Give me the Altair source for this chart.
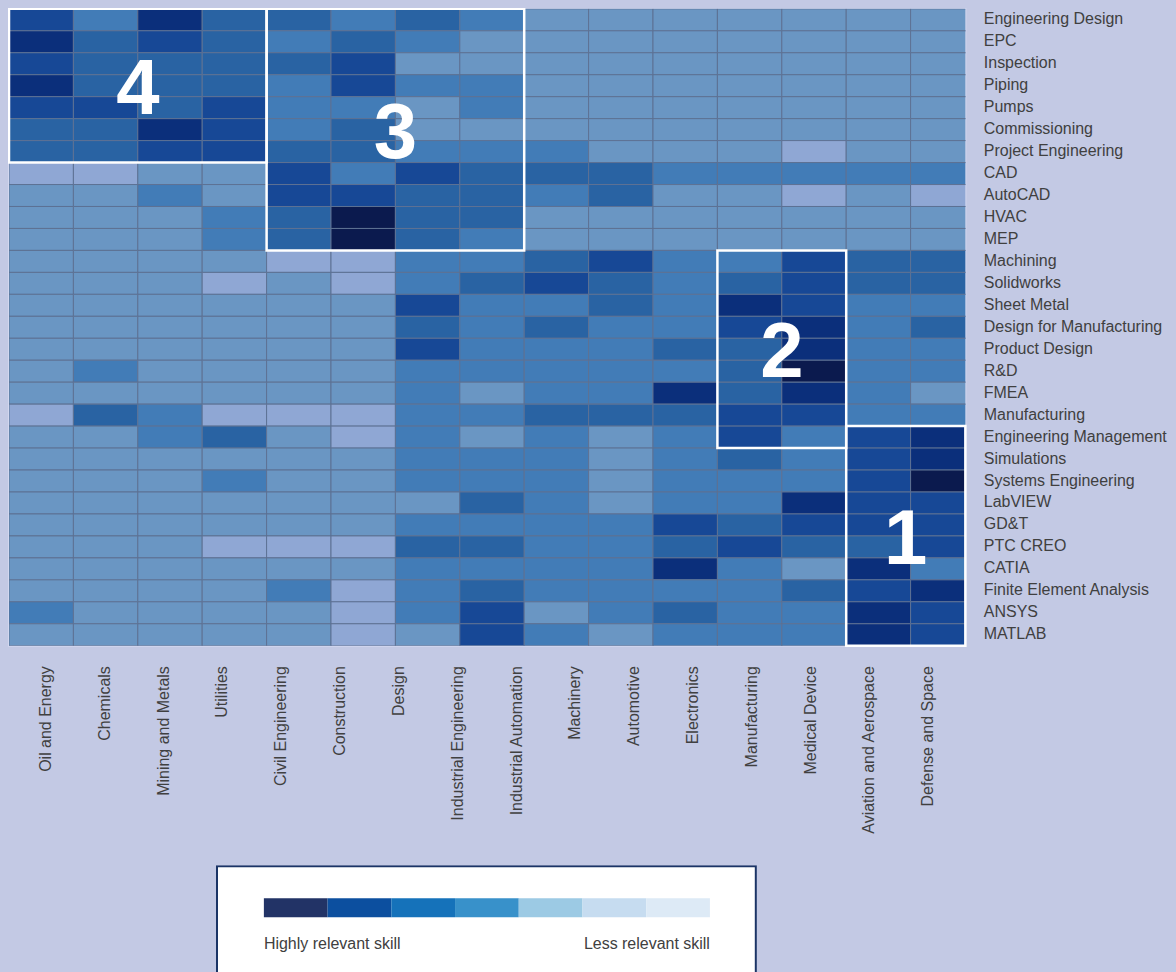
import json
import altair as alt
import pandas as pd

FONT = "Liberation Sans"
TEXT_COLOR = "#404040"
PAGE_BG = "#c3c9e4"

industries = [
    "Oil and Energy", "Chemicals", "Mining and Metals", "Utilities",
    "Civil Engineering", "Construction", "Design", "Industrial Engineering",
    "Industrial Automation", "Machinery", "Automotive", "Electronics",
    "Manufacturing", "Medical Device", "Aviation and Aerospace", "Defense and Space",
]

skills = [
    "Engineering Design", "EPC", "Inspection", "Piping", "Pumps", "Commissioning",
    "Project Engineering", "CAD", "AutoCAD", "HVAC", "MEP", "Machining", "Solidworks",
    "Sheet Metal", "Design for Manufacturing", "Product Design", "R&D", "FMEA",
    "Manufacturing", "Engineering Management", "Simulations", "Systems Engineering",
    "LabVIEW", "GD&T", "PTC CREO", "CATIA", "Finite Element Analysis", "ANSYS", "MATLAB",
]

# relevance level per skill (row) and heatmap column: 1 = highly relevant ... 7 = less relevant
relevance = [
    [3, 5, 2, 4, 4, 5, 4, 5, 6, 6, 6, 6, 6, 6, 6],
    [2, 4, 3, 4, 5, 4, 5, 6, 6, 6, 6, 6, 6, 6, 6],
    [3, 4, 4, 4, 4, 3, 6, 6, 6, 6, 6, 6, 6, 6, 6],
    [2, 4, 4, 4, 5, 3, 5, 5, 6, 6, 6, 6, 6, 6, 6],
    [3, 3, 4, 3, 5, 5, 6, 5, 6, 6, 6, 6, 6, 6, 6],
    [4, 4, 2, 3, 5, 4, 6, 6, 6, 6, 6, 6, 6, 6, 6],
    [4, 4, 3, 3, 4, 4, 5, 5, 5, 6, 6, 6, 7, 6, 6],
    [7, 7, 6, 6, 3, 5, 3, 4, 4, 4, 5, 5, 5, 5, 5],
    [6, 6, 5, 6, 3, 3, 4, 4, 5, 4, 6, 6, 7, 6, 7],
    [6, 6, 6, 5, 4, 1, 4, 4, 6, 6, 6, 6, 6, 6, 6],
    [6, 6, 6, 5, 4, 1, 4, 5, 6, 6, 6, 6, 6, 6, 6],
    [6, 6, 6, 6, 7, 7, 5, 5, 4, 3, 5, 5, 3, 4, 4],
    [6, 6, 6, 7, 6, 7, 5, 4, 3, 4, 5, 4, 3, 4, 4],
    [6, 6, 6, 6, 6, 6, 3, 5, 5, 4, 5, 2, 3, 5, 5],
    [6, 6, 6, 6, 6, 6, 4, 5, 4, 5, 5, 3, 2, 5, 4],
    [6, 6, 6, 6, 6, 6, 3, 5, 5, 5, 4, 4, 2, 5, 5],
    [6, 5, 6, 6, 6, 6, 5, 5, 5, 5, 5, 4, 1, 5, 5],
    [6, 6, 6, 6, 6, 6, 5, 6, 5, 5, 2, 4, 2, 5, 6],
    [7, 4, 5, 7, 7, 7, 5, 5, 4, 4, 4, 3, 3, 5, 5],
    [6, 6, 5, 4, 6, 7, 5, 6, 5, 6, 5, 3, 5, 3, 2],
    [6, 6, 6, 6, 6, 6, 5, 5, 5, 6, 5, 4, 5, 3, 2],
    [6, 6, 6, 5, 6, 6, 5, 5, 5, 6, 5, 5, 5, 3, 1],
    [6, 6, 6, 6, 6, 6, 6, 4, 5, 6, 5, 5, 2, 3, 3],
    [6, 6, 6, 6, 6, 6, 5, 5, 5, 5, 3, 4, 3, 3, 3],
    [6, 6, 6, 7, 7, 7, 4, 4, 5, 5, 4, 3, 4, 4, 3],
    [6, 6, 6, 6, 6, 6, 5, 5, 5, 5, 2, 5, 6, 2, 5],
    [6, 6, 6, 6, 5, 7, 5, 4, 5, 5, 5, 5, 4, 3, 2],
    [5, 6, 6, 6, 6, 7, 5, 3, 6, 5, 4, 5, 5, 2, 3],
    [6, 6, 6, 6, 6, 7, 6, 3, 5, 6, 5, 5, 5, 2, 3],
]

heat_colors = ["#0b1a4e", "#0b2f7b", "#174896", "#2963a3", "#427cb7", "#6a96c3", "#8fa7d4"]
legend_colors = ["#223366", "#0c4f9f", "#1572ba", "#3891ca", "#9ccae4", "#c6dcf0", "#ddeaf6"]
legend_texts = ["Highly relevant skill", "Less relevant skill"]

cluster_labels = ["4", "3", "2", "1"]
cluster_first_col = [0, 4, 11, 13]
cluster_last_col = [3, 7, 12, 14]
cluster_first_row = ["Engineering Design", "Engineering Design", "Machining", "Engineering Management"]
cluster_last_row = ["Project Engineering", "MEP", "Engineering Management", "MATLAB"]

n_rows = len(skills)
visible_cols = 14.85  # the last heatmap column is cut by the plot edge

cells = pd.DataFrame(
    [{"col": c, "row": r, "level": v} for r, vals in enumerate(relevance) for c, v in enumerate(vals)]
)
clusters = pd.DataFrame({
    "label": cluster_labels,
    "c0": cluster_first_col,
    "c1": [c + 1 for c in cluster_last_col],
    "r0": [skills.index(s) for s in cluster_first_row],
    "r1": [skills.index(s) + 1 for s in cluster_last_row],
})

xs = alt.Scale(domain=[0, visible_cols], nice=False, zero=False)
ys = alt.Scale(domain=[0, n_rows], reverse=True, nice=False, zero=False)

y_axis = alt.Axis(
    orient="right", values=[i + 0.5 for i in range(n_rows)],
    labelExpr=json.dumps(skills) + "[floor(datum.value)]",
    title=None, ticks=False, domain=False, grid=False, labelPadding=18,
    labelFont=FONT, labelFontSize=16, labelColor=TEXT_COLOR, labelAlign="left",
    labelBaseline="middle", labelOverlap=False, labelFlush=False, labelLimit=400,
    labelOffset=-1,
)

heat = alt.Chart(cells).transform_calculate(
    col_end="datum.col + 1", row_end="datum.row + 1"
).mark_rect(clip=True, stroke="#5d7194", strokeWidth=1).encode(
    x=alt.X("col:Q", scale=xs, axis=None),
    x2="col_end:Q",
    y=alt.Y("row:Q", scale=ys, axis=y_axis),
    y2="row_end:Q",
    color=alt.Color("level:O", scale=alt.Scale(domain=list(range(1, 8)), range=heat_colors), legend=None),
)

frames = alt.Chart(clusters).transform_calculate(
    c1v=f"min(datum.c1, {visible_cols})"
).mark_rect(fill="white", fillOpacity=0, stroke="white", strokeWidth=2.5).encode(
    x=alt.X("c0:Q", scale=xs, axis=None), x2="c1v:Q",
    y=alt.Y("r0:Q", scale=ys, axis=y_axis), y2="r1:Q",
)

numbers = alt.Chart(clusters).transform_calculate(
    cx=f"(datum.c0 + min(datum.c1, {visible_cols})) / 2", cy="(datum.r0 + datum.r1) / 2"
).mark_text(font=FONT, fontWeight="bold", fontSize=78, color="white", align="center",
            baseline="middle", dy=5).encode(
    x=alt.X("cx:Q", scale=xs, axis=None),
    y=alt.Y("cy:Q", scale=ys, axis=y_axis),
    text="label:N",
)

col_labels = alt.Chart(pd.DataFrame({"industry": industries})).mark_point(opacity=0).encode(
    x=alt.X(
        "industry:N", sort=industries,
        scale=alt.Scale(type="band", paddingInner=0, paddingOuter=0.13),
        axis=alt.Axis(
            orient="bottom", title=None, labelAngle=-90, ticks=False, domain=False,
            labelPadding=20, labelFont=FONT, labelFontSize=16, labelColor=TEXT_COLOR,
            labelOverlap=False, labelLimit=400,
        ),
    )
)

main = alt.layer(alt.layer(heat, frames, numbers), col_labels).resolve_scale(x="independent").properties(
    width=958, height=638, view=alt.ViewBackground(stroke="#d3d8ef", strokeWidth=2)
)

# legend panel
lxs = alt.Scale(domain=[-4.0, 7.75], nice=False, zero=False)
lys = alt.Scale(domain=[0, 112], reverse=True, nice=False, zero=False)

legend_box = alt.Chart(pd.DataFrame({"x0": [-0.736], "x1": [7.72], "y0": [1], "y1": [160]})).mark_rect(
    clip=True, fill="white", stroke="#1b3466", strokeWidth=2
).encode(
    x=alt.X("x0:Q", scale=lxs, axis=None), x2="x1:Q",
    y=alt.Y("y0:Q", scale=lys, axis=None), y2="y1:Q",
)

swatches = alt.Chart(pd.DataFrame({"step": list(range(7)), "color": legend_colors})).transform_calculate(
    step_end="datum.step + 1"
).mark_rect().encode(
    x=alt.X("step:Q", scale=lxs, axis=None), x2="step_end:Q",
    y=alt.value(33), y2=alt.value(52),
    color=alt.Color("color:N", scale=None, legend=None),
)

text_left = alt.Chart(pd.DataFrame({"pos": [0], "t": [legend_texts[0]]})).mark_text(
    font=FONT, fontSize=16, color=TEXT_COLOR, align="left", baseline="alphabetic"
).encode(x=alt.X("pos:Q", scale=lxs, axis=None), y=alt.value(84), text="t:N")

text_right = alt.Chart(pd.DataFrame({"pos": [7], "t": [legend_texts[1]]})).mark_text(
    font=FONT, fontSize=16, color=TEXT_COLOR, align="right", baseline="alphabetic"
).encode(x=alt.X("pos:Q", scale=lxs, axis=None), y=alt.value(84), text="t:N")

legend = alt.layer(legend_box, swatches, text_left, text_right).properties(
    width=750, height=112, view=alt.ViewBackground(strokeWidth=0)
)

chart = alt.vconcat(main, legend, spacing=30).properties(
    padding={"left": -2, "top": -3, "right": 0, "bottom": 0}, background=PAGE_BG
)

# paint the page margin in the chart background colour as well
try:
    import altair.utils.html as _alt_html

    class _PageTemplate:
        def __init__(self, base):
            self.base = base

        def render(self, *args, **kwargs):
            html = self.base.render(*args, **kwargs)
            style = "<style>html, body {background: %s; overflow: hidden;}</style>" % PAGE_BG
            if "<head>" in html:
                return html.replace("<head>", "<head>\n" + style, 1)
            return style + html

    _alt_html.TEMPLATES["standard"] = _PageTemplate(_alt_html.TEMPLATES["standard"])
except Exception:
    pass

chart.save("out.html", embed_options={"renderer": "svg", "actions": False})
